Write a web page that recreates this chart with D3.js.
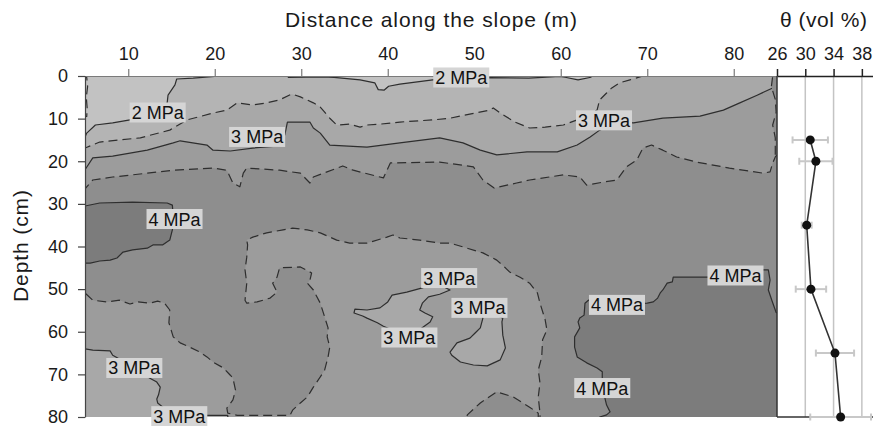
<!DOCTYPE html>
<html>
<head>
<meta charset="utf-8">
<script src="https://cdn.jsdelivr.net/npm/d3@7"></script>
<style>
  body { margin: 0; background: #fff; }
  svg { display: block; font-family: "Liberation Sans", Arial, sans-serif; }
</style>
</head>
<body>
<svg id="chart" width="873" height="426"></svg>
<script>
// ---- axis ticks ----
const distTicks = [10, 20, 30, 40, 50, 60, 70, 80];
const depthTicks = [0, 10, 20, 30, 40, 50, 60, 70, 80];
const thetaTicks = [26, 30, 34, 38];

// ---- soil water content profile (vol %) ----
const sampleDepth = [15, 20, 35, 50, 65, 80];
const thetaMean   = [30.7, 31.5, 30.2, 30.8, 34.2, 35.0];
const thetaErr    = [2.5, 2.35, 0.7, 2.15, 2.7, 4.3];

// ---- penetration resistance bands: <2, 2-2.5, 2.5-3, 3-3.5, 3.5-4, >4 MPa ----
const bandGray = ["#c2c2c2", "#b4b4b4", "#a8a8a8", "#9c9c9c", "#8e8e8e", "#7c7c7c"];

// ---- contour rings, [distance m, depth cm]; vertices past the grid close each ring ----
const below2TopLeft = [[3,-3],[3,14.3],[5,14.3],[5.2,13.4],[6.2,11.5],[8.2,11.0],[10.2,10.3],[12.5,9.5],[14.5,6.3],[14.6,4.5],[15.4,2.1],[15.6,0.7],[17.5,0.5],[20,0.1],[20.2,-3]];
const below2TopStrip = [[28.5,-3],[28.5,0.3],[32.5,0.2],[33.8,0.3],[36.8,0.9],[38.5,1.6],[38.9,3.2],[39.6,3.3],[40.1,2.4],[41.4,1.9],[45.2,0.9],[48.5,0.5],[51.8,0.4],[56.3,0.5],[59.9,0.1],[60.5,0.3],[62.0,0.9],[63.5,0.3],[63.6,-3]];
const below15Edge = [[3,-1],[5.2,0.3],[5.3,2.5],[5.15,5],[5.25,7.5],[5.2,9.5],[3,10]];
const above25 = [[3,16.9],[5,16.9],[6.7,15.5],[11.4,14.5],[14.8,12.7],[15.2,12.2],[16.8,10.3],[19.8,8.7],[21.4,8.0],[22.6,6.3],[24.4,6.8],[26.0,6.3],[27.5,5.6],[28.9,4.2],[29.9,4.9],[31.4,6.3],[32.2,7.3],[33.3,9.9],[34.1,11.5],[35.6,11.3],[36.8,12.0],[37.6,11.5],[39.1,11.3],[41.4,10.8],[45.2,10.3],[47.2,9.9],[50.1,8.7],[51.8,8.0],[52.2,7.5],[53.0,8.7],[54.7,10.8],[56.4,12.2],[58.2,12.0],[60.3,11.5],[61.9,10.3],[64.2,8.0],[64.5,5.6],[65.3,4.0],[65.9,2.8],[66.8,1.6],[68.0,0.9],[69.5,0],[69.6,-3],[87,-3],[87,83],[3,83]];
const above3 = [[3,22],[5,22],[5.9,19.2],[8.2,18.8],[12.2,17.4],[15.2,15.7],[16.0,15.2],[19.1,16.2],[19.8,17.4],[21.8,17.6],[24.4,16.9],[27.5,16.4],[28.1,13.8],[28.4,10.8],[31.0,10.8],[31.4,12.2],[32.2,13.4],[33.3,16.2],[37.6,16.7],[41.4,15.7],[46.0,14.5],[48.7,15.7],[50.7,17.4],[52.6,18.5],[56.1,17.8],[59.6,17.8],[61.9,16.2],[63.4,14.3],[64.5,12.7],[66.5,10.8],[68.4,11.0],[71.8,9.9],[76.1,9.4],[78.8,8.0],[80.7,6.3],[82.7,4.5],[84.5,2.8],[85,2.3],[87,2.3],[87,83],[3,83]];
const below3Corner = [[3,64],[5,64.0],[5.9,64.3],[7.9,64.5],[8.2,65.5],[9.5,67],[12.5,70.9],[13.3,71.8],[13.7,73],[13.5,74.8],[13.3,75.8],[13.4,76.7],[14.5,78.5],[16,79.5],[19.1,79.6],[21.5,79.6],[21.6,83],[3,83]];
const below3Finger = [[45.5,48.5],[44.0,49.7],[42.2,50.7],[40.5,51.4],[40.0,53.0],[39.1,54.4],[37.6,54.9],[36.2,54.7],[36.1,55.6],[37.1,56.3],[37.6,56.8],[38.8,57.9],[39.5,58.7],[42.5,61.3],[44.1,58.9],[44.9,57.7],[45.2,56.5],[44.3,55.6],[43.7,54.9],[44.0,53.3],[44.7,51.8],[46.0,51.2],[47.2,50.2]];
const below3Loop = [[50.6,54.4],[51.0,56.8],[50.7,59.1],[50.1,60.3],[49.5,61.5],[48.0,62.6],[47.2,64.8],[47.4,65.5],[48.4,67.1],[49.9,67.8],[51.5,68.0],[53.0,66.6],[53.6,63.8],[53.3,60.8],[53.2,57.7],[53.3,56.8]];
const above35 = [
  [3,26.5],[5,26.5],[5.2,26.0],[5.9,24.4],[8.2,23.7],[12.2,22.8],[15.2,22.1],[19.8,21.6],[21.4,22.1],[22.1,25.1],[22.9,26.0],[23.3,22.8],[23.7,21.6],[27.5,22.1],[29.9,22.8],[31.0,25.1],[31.4,23.7],[34.8,21.1],[36.0,22.1],[39.5,23.9],[40.3,20.4],[46.0,20.2],[49.9,21.3],[51.0,24.4],[52.3,26.3],[54.9,25.1],[56.4,24.4],[60.3,23.2],[62.2,23.7],[63.0,25.6],[64.9,24.9],[66.5,24.4],[67.6,21.3],[68.8,19.7],[69.5,16.9],[70.5,16.2],[71.8,17.4],[73.4,19.0],[75.7,20.2],[79.5,21.6],[83.4,22.8],[84.2,22.5],[84.5,20.4],[84.8,19.0],[85,18.5],[87,18.5],[87,83],[57.6,83],
  [57.6,79.1],[57.4,75.3],[57.6,72.0],[57.4,69.0],[57.8,65.9],[57.9,61.9],[58.4,59.6],[58.2,57.2],[57.6,53.3],[57.3,50.9],[56.4,48.6],[55.3,47.2],[54.1,46.0],[53.6,45.0],[52.6,43.2],[51.0,41.5],[48.7,40.1],[47.2,39.2],[46.0,39.2],
  [43.7,38.5],[41.4,38.0],[40.6,37.3],[39.9,37.8],[37.6,39.2],[35.6,39.2],[34.1,38.5],[32.2,36.8],[30.7,36.1],[29.0,35.7],[27.9,36.1],[26.0,36.8],[24.4,37.8],[23.7,38.5],
  [23.8,39.6],[23.7,42.5],[23.5,45.5],[23.7,48.6],[23.5,52.6],[23.7,53.3],[24.9,53.0],[26.4,52.1],[27.2,50.7],[26.7,48.6],[27.2,47.2],[27.5,45.0],
  [29.9,44.8],[31.2,46.2],[31.0,47.9],[30.7,48.6],[31.4,50.2],[32.2,53.3],[32.7,56.5],[33.1,59.1],[33.0,61.2],[33.3,63.6],[33.1,65.9],[32.7,69.0],[32.2,70.6],[31.4,73.0],[30.7,75.3],[29.9,76.7],[29.0,78.4],[28.7,79.6],
  [22.6,79.6],[21.5,79.1],[21.4,77.9],[22.1,76.0],[22.4,73.7],[22.1,70.9],[21.8,70.2],[21.0,68.5],[19.8,67.1],[19.1,65.9],[18.3,64.8],[17.1,63.6],[16.0,62.6],[15.2,61.2],[14.7,57.9],[14.8,54.9],[14.2,53.3],[13.4,52.8],[12.5,53.3],[11.1,53.0],[10.2,53.5],[9.0,52.6],[7.5,53.0],[5.9,52.6],[5,50.9],[3,50.9]
];
const above35Bump = [[48.9,83],[49.2,79.5],[50.7,76.7],[52.6,74.1],[54.5,75.3],[56.4,77.7],[57.4,79.1],[57.4,83]];
const above35Edge = [[84.5,-3],[84.5,0],[84.35,2.5],[84.8,5.5],[84.9,8.5],[84.5,11.5],[84.8,14.5],[84.8,18.5],[87,18.5],[87,-3]];
const above4Left = [[3,30.5],[5,30.5],[6.7,29.8],[10.5,29.6],[14.5,29.8],[15.1,30.3],[15.2,33.1],[15.1,36.1],[14.8,38.5],[14.0,39.6],[12.9,39.6],[12.2,40.4],[10.5,40.8],[9.4,41.3],[8.7,42.7],[7.9,43.2],[6.7,43.4],[5.6,43.9],[5,43.9],[3,43.9]];
const above4Right = [[87,83],[87,55.5],[84.9,55.5],[84.8,54.9],[84.4,52.6],[84.0,50.2],[84.2,47.9],[84.0,45.5],[83.4,45.5],[80.2,46.5],[77.0,47.2],[73.0,47.2],[72.9,48.3],[72.3,48.6],[71.8,50.2],[71.5,50.9],[71.2,52.1],[70.7,53.0],[70.0,53.3],[66.5,53.7],[63.2,52.6],[62.8,53.3],[62.7,56.1],[62.2,56.8],[62.0,57.7],[62.2,59.1],[61.6,61.2],[61.6,63.6],[61.9,65.9],[63.0,67.3],[64.2,68.5],[64.8,69.4],[64.8,70.9],[64.8,73.2],[65.1,75.5],[65.3,77.2],[65.7,78.8],[65.3,79.5],[64.5,80],[64.5,83]];

// ---- contour labels ----
const labelText  = ["2 MPa","2 MPa","3 MPa","3 MPa","4 MPa","3 MPa","3 MPa","3 MPa","4 MPa","4 MPa","4 MPa","3 MPa","3 MPa"];
const labelDist  = [13.4, 48.5, 24.9, 65.0, 15.35, 47.1, 50.6, 42.5, 80.2, 66.5, 64.8, 10.7, 15.9];
const labelDepth = [8.56, 0.35, 14.3, 10.4, 33.55, 47.4, 54.4, 61.35, 46.8, 53.7, 73.2, 68.5, 79.8];

// rings in painting order: ring, contour level (MPa), band index of the enclosed area
const rings = [
  { pts: below2TopLeft,  level: 2,   band: 0 },
  { pts: below2TopStrip, level: 2,   band: 0 },
  { pts: below15Edge,    level: 1.5, band: 0 },
  { pts: above25,        level: 2.5, band: 2 },
  { pts: above3,         level: 3,   band: 3 },
  { pts: below3Corner,   level: 3,   band: 2 },
  { pts: below3Finger,   level: 3,   band: 2 },
  { pts: below3Loop,     level: 3,   band: 2 },
  { pts: above35,        level: 3.5, band: 4 },
  { pts: above35Bump,    level: 3.5, band: 4 },
  { pts: above35Edge,    level: 3.5, band: 4 },
  { pts: above4Left,     level: 4,   band: 5 },
  { pts: above4Right,    level: 4,   band: 5 }
];

const svg = d3.select("#chart");

const x  = d3.scaleLinear().domain([5, 85]).range([85, 777]);
const y  = d3.scaleLinear().domain([0, 80]).range([76, 417]);
const xt = d3.scaleLinear().domain([26, 40]).range([777, 876]);

// ---- contour map ----
svg.append("defs").append("clipPath").attr("id", "mapClip")
  .append("rect")
  .attr("x", x(5)).attr("y", y(0))
  .attr("width", x(85) - x(5)).attr("height", y(80) - y(0));

const map = svg.append("g").attr("clip-path", "url(#mapClip)");

map.append("rect")
  .attr("x", x(5)).attr("y", y(0))
  .attr("width", x(85) - x(5)).attr("height", y(80) - y(0))
  .attr("fill", bandGray[1]);

const ringPath = d3.line().x(d => x(d[0])).y(d => y(d[1])).curve(d3.curveLinearClosed);

map.selectAll("path.band")
  .data(rings)
  .join("path")
  .attr("class", "band")
  .attr("d", r => ringPath(r.pts))
  .attr("fill", r => bandGray[r.band])
  .attr("stroke", "#2e2e2e")
  .attr("stroke-width", 1.2)
  .attr("stroke-linejoin", "round")
  .attr("stroke-dasharray", r => (r.level % 1 === 0 ? null : "9,5"));

// ---- axes ----
function styleAxis(g, color, width) {
  g.attr("font-family", null).attr("font-size", null);
  g.selectAll(".domain").attr("stroke", color).attr("stroke-width", width);
  g.selectAll(".tick line").attr("stroke", color).attr("stroke-width", width);
  g.selectAll(".tick text").attr("fill", "#1a1a1a").style("font-size", "18px");
}

svg.append("g")
  .attr("transform", `translate(0,${y(0)})`)
  .call(d3.axisTop(x).tickValues(distTicks).tickSize(7).tickSizeOuter(0).tickPadding(9))
  .call(g => styleAxis(g, "#7a7a7a", 1.2));

svg.append("g")
  .attr("transform", `translate(${x(5)},0)`)
  .call(d3.axisLeft(y).tickValues(depthTicks).tickSize(7).tickSizeOuter(0).tickPadding(10))
  .call(g => styleAxis(g, "#444", 1.2));

// ---- water content panel ----
svg.append("g")
  .selectAll("line")
  .data(thetaTicks.slice(1))
  .join("line")
  .attr("x1", d => xt(d)).attr("x2", d => xt(d))
  .attr("y1", y(0)).attr("y2", y(80))
  .attr("stroke", "#c4c4c4").attr("stroke-width", 1.5);

svg.append("line")
  .attr("x1", xt(26)).attr("x2", xt(26)).attr("y1", y(0)).attr("y2", y(80))
  .attr("stroke", "#333").attr("stroke-width", 1.5);
svg.append("line")
  .attr("x1", xt(26)).attr("x2", xt(40)).attr("y1", y(80)).attr("y2", y(80))
  .attr("stroke", "#333").attr("stroke-width", 1.5);

svg.append("g")
  .attr("transform", `translate(0,${y(0)})`)
  .call(d3.axisTop(xt).tickValues(thetaTicks).tickSize(7).tickSizeOuter(0).tickPadding(9))
  .call(g => styleAxis(g, "#222", 1.5));

const profile = sampleDepth.map((d, i) => ({ depth: d, mean: thetaMean[i], err: thetaErr[i] }));

const bars = svg.append("g").attr("stroke", "#c8c8c8").attr("stroke-width", 2);
bars.selectAll("line.span")
  .data(profile).join("line").attr("class", "span")
  .attr("x1", p => xt(p.mean - p.err)).attr("x2", p => xt(p.mean + p.err))
  .attr("y1", p => y(p.depth)).attr("y2", p => y(p.depth));
bars.selectAll("line.capL")
  .data(profile).join("line").attr("class", "capL")
  .attr("x1", p => xt(p.mean - p.err)).attr("x2", p => xt(p.mean - p.err))
  .attr("y1", p => y(p.depth) - 3.5).attr("y2", p => y(p.depth) + 3.5);
bars.selectAll("line.capR")
  .data(profile).join("line").attr("class", "capR")
  .attr("x1", p => xt(p.mean + p.err)).attr("x2", p => xt(p.mean + p.err))
  .attr("y1", p => y(p.depth) - 3.5).attr("y2", p => y(p.depth) + 3.5);

svg.append("path")
  .datum(profile)
  .attr("fill", "none").attr("stroke", "#333").attr("stroke-width", 1.6)
  .attr("d", d3.line().x(p => xt(p.mean)).y(p => y(p.depth)));

svg.append("g")
  .selectAll("circle")
  .data(profile).join("circle")
  .attr("cx", p => xt(p.mean)).attr("cy", p => y(p.depth))
  .attr("r", 4.5).attr("fill", "#111");

// ---- contour labels ----
const labels = svg.append("g").selectAll("g")
  .data(labelText.map((t, i) => ({ text: t, d: labelDist[i], z: labelDepth[i] })))
  .join("g")
  .attr("transform", l => `translate(${x(l.d)},${y(l.z)})`);

labels.append("rect").attr("fill", "#d5d5d5");
labels.append("text")
  .attr("text-anchor", "middle")
  .attr("y", 6.5)
  .style("font-size", "18px")
  .attr("fill", "#111")
  .text(l => l.text);
labels.each(function () {
  const g = d3.select(this);
  const w = g.select("text").node().getComputedTextLength() + 4;
  g.select("rect").attr("x", -w / 2).attr("y", -10).attr("width", w).attr("height", 20);
});

// ---- titles ----
svg.append("text")
  .attr("x", 431).attr("y", 27)
  .attr("text-anchor", "middle")
  .style("font-size", "21px").attr("fill", "#1a1a1a")
  .attr("textLength", 292).attr("lengthAdjust", "spacing")
  .text("Distance along the slope (m)");

svg.append("text")
  .attr("x", 823.5).attr("y", 27)
  .attr("text-anchor", "middle")
  .style("font-size", "21px").attr("fill", "#1a1a1a")
  .attr("textLength", 87).attr("lengthAdjust", "spacing")
  .text("θ (vol %)");

svg.append("text")
  .attr("transform", "translate(28,246) rotate(-90)")
  .attr("text-anchor", "middle")
  .style("font-size", "21px").attr("fill", "#1a1a1a")
  .attr("textLength", 112).attr("lengthAdjust", "spacing")
  .text("Depth (cm)");
</script>
</body>
</html>
